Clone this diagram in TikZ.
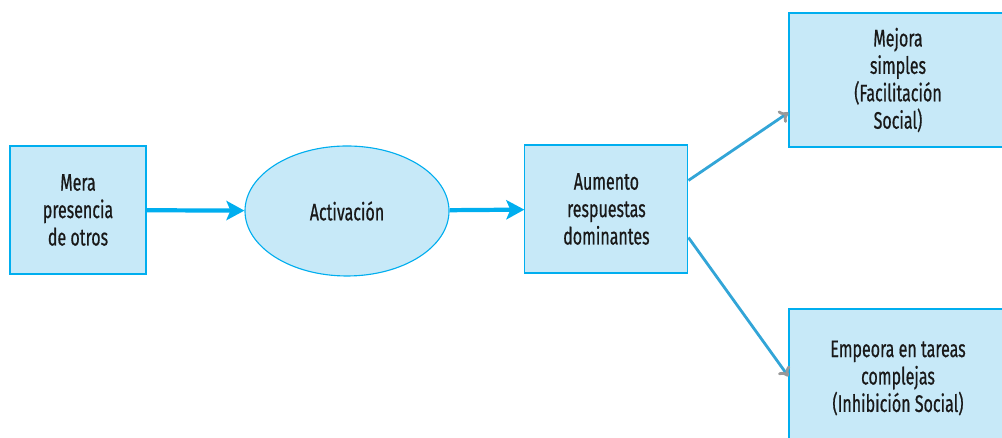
\documentclass[tikz,border=0pt]{standalone}
\usepackage{fontspec}
\setmainfont{Fira Sans}[FakeStretch=0.67, FakeBold=0.6]
\usepackage{tikz}
\usetikzlibrary{arrows.meta, shapes.geometric}

\definecolor{boxfill}{RGB}{199,233,248}
\definecolor{boxline}{RGB}{0,174,239}
\definecolor{diagline}{RGB}{50,165,215}

\begin{document}
\begin{tikzpicture}[
    every node/.style={font=\fontsize{17}{19.5}\selectfont, align=center, text=black!90},
    stepbox/.style={draw=boxline, fill=boxfill, line width=0.8pt, rectangle,
      minimum width=3.4cm, minimum height=3.2cm, inner sep=0pt},
    thickarrow/.style={draw=boxline, line width=3pt, -{Stealth[length=4.5mm, width=4.8mm, inset=1mm]}},
    thinarrow/.style={draw=diagline, line width=2pt, -{To[length=2.2mm, width=3.6mm, color=gray!80]}}
  ]
    \useasboundingbox (0, 0) rectangle (25.05, 10.95);
    \clip (0, 0) rectangle (25.05, 10.95);

    % boxes
    \node[stepbox] (mera) at (1.95, 5.7) {Mera\\presencia\\de otros};
    \node[draw=boxline, fill=boxfill, line width=0.8pt, ellipse,
          minimum width=5.1cm, minimum height=3.25cm] (activ) at (8.675, 5.675) {Activación};
    \node[stepbox, minimum width=4.075cm] (aumento) at (15.16, 5.725)
      {Aumento\\respuestas\\dominantes};
    \node[stepbox, minimum width=5.45cm, minimum height=3.35cm] (mejora) at (22.45, 8.95)
      {Mejora\\simples\\(Facilitación\\Social)};
    \node[stepbox, minimum width=5.45cm, minimum height=3.45cm] (empeora) at (22.45, 1.5)
      {Empeora en tareas\\complejas\\(Inhibición Social)};

    % connectors
    \draw[thickarrow] (mera) -- (activ);
    \draw[thickarrow] (activ) -- (aumento);
    \draw[thinarrow] ([yshift=-0.9cm]aumento.north east) -- ([yshift=0.875cm]mejora.south west);
    \draw[thinarrow] ([yshift=0.9cm]aumento.south east) -- ([yshift=-1.7cm]empeora.north west);
  \end{tikzpicture}
\end{document}
